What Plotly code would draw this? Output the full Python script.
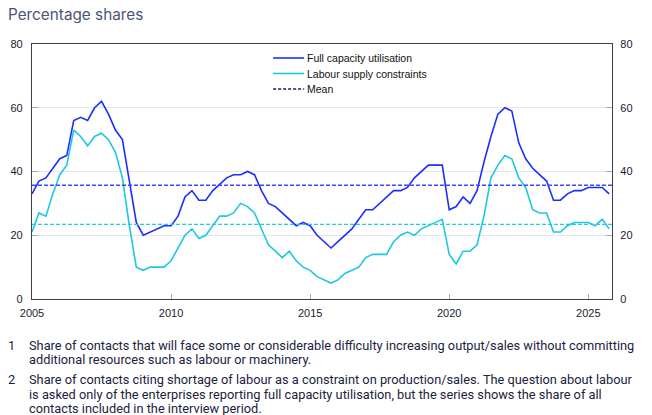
import plotly.graph_objects as go

# Quarterly data 2005Q1 - 2025Q4
years = list(range(2005, 2026))
quarter_x = [y + q * 0.25 for y in years for q in range(4)]

full_capacity = [
    33, 37, 38, 41,   # 2005
    44, 45, 56, 57,   # 2006
    56, 60, 62, 58,   # 2007
    53, 50, 37, 24,   # 2008
    20, 21, 22, 23,   # 2009
    23, 26, 32, 34,   # 2010
    31, 31, 34, 36,   # 2011
    38, 39, 39, 40,   # 2012
    39, 34, 30, 29,   # 2013
    27, 25, 23, 24,   # 2014
    23, 20, 18, 16,   # 2015
    18, 20, 22, 25,   # 2016
    28, 28, 30, 32,   # 2017
    34, 34, 35, 38,   # 2018
    40, 42, 42, 42,   # 2019
    28, 29, 32, 30,   # 2020
    34, 43, 51, 58,   # 2021
    60, 59, 49, 44,   # 2022
    41, 39, 37, 31,   # 2023
    31, 33, 34, 34,   # 2024
    35, 35, 35, 33,   # 2025
]

labour = [
    21, 27, 26, 33,   # 2005
    39, 42, 53, 51,   # 2006
    48, 51, 52, 50,   # 2007
    46, 38, 23, 10,   # 2008
    9, 10, 10, 10,    # 2009
    12, 16, 20, 22,   # 2010
    19, 20, 23, 26,   # 2011
    26, 27, 30, 29,   # 2012
    27, 22, 17, 15,   # 2013
    13, 15, 12, 10,   # 2014
    9, 7, 6, 5,       # 2015
    6, 8, 9, 10,      # 2016
    13, 14, 14, 14,   # 2017
    18, 20, 21, 20,   # 2018
    22, 23, 24, 25,   # 2019
    14, 11, 15, 15,   # 2020
    17, 26, 38, 42,   # 2021
    45, 44, 38, 35,   # 2022
    28, 27, 27, 21,   # 2023
    21, 23, 24, 24,   # 2024
    24, 23, 25, 22,   # 2025
]

mean_full = 35.7
mean_labour = 23.4

y_ticks = [0, 20, 40, 60, 80]
x_ticks = [2005, 2010, 2015, 2020, 2025]

series_names = ["Full capacity utilisation", "Labour supply constraints", "Mean"]
title_text = "Percentage shares"
footnote_numbers = ["1", "2"]
footnote_lines = [
    ["Share of contacts that will face some or considerable difficulty increasing output/sales without committing",
     "additional resources such as labour or machinery."],
    ["Share of contacts citing shortage of labour as a constraint on production/sales. The question about labour",
     "is asked only of the enterprises reporting full capacity utilisation, but the series shows the share of all",
     "contacts included in the interview period."],
]

BLUE = "#1e2dff"
CYAN = "#1ec8e0"
MEAN_BLUE = "#3a48ff"
MEAN_CYAN = "#2cc8e2"
NAVY = "#1a1f5c"
legend_colors = [BLUE, CYAN, NAVY]
legend_dash = ["solid", "solid", "3px,2px"]

W, H = 652, 415
PLOT_L, PLOT_R, PLOT_T, PLOT_B = 32, 611.7, 44, 299
L = PLOT_L
T = PLOT_T
pw = PLOT_R - PLOT_L
ph = PLOT_B - PLOT_T
R = W - L - pw
B = H - T - ph


def px(x):
    return (x - PLOT_L) / pw


def py(y):
    return (PLOT_B - y) / ph


fig = go.Figure()

x_start, x_end = 2005, 2005 + (PLOT_R - PLOT_L) / 27.8

fig.add_trace(go.Scatter(x=quarter_x, y=full_capacity, mode="lines",
                         line=dict(color=BLUE, width=1.6), name=series_names[0]))
fig.add_trace(go.Scatter(x=quarter_x, y=labour, mode="lines",
                         line=dict(color=CYAN, width=1.6), name=series_names[1]))
fig.add_trace(go.Scatter(x=[x_start, x_end], y=[mean_full, mean_full], mode="lines",
                         line=dict(color=MEAN_BLUE, width=1.4, dash="4px,2px"), yaxis="y2"))
fig.add_trace(go.Scatter(x=[x_start, x_end], y=[mean_labour, mean_labour], mode="lines",
                         line=dict(color=MEAN_CYAN, width=1.4, dash="4px,2px"), yaxis="y2"))

tickfont = dict(family="Liberation Sans, Arial, sans-serif", size=11, color="#1a1a2e")

fig.update_layout(
    width=W, height=H,
    margin=dict(l=L, r=R, t=T, b=B, pad=0, autoexpand=False),
    paper_bgcolor="white", plot_bgcolor="white",
    showlegend=False,
    xaxis=dict(range=[x_start, x_end], tickvals=x_ticks, ticktext=[str(v) for v in x_ticks],
               showgrid=False, zeroline=False, showline=True, linecolor="#3a3f4a", linewidth=1.2,
               mirror=True, ticks="inside", ticklen=5, tickcolor="#aaaaaa", tickwidth=1,
               tickfont=tickfont, ticklabelstandoff=4, automargin=False),
    yaxis=dict(range=[0, 80], tickvals=y_ticks, showgrid=True, gridcolor="#e6e6e6", gridwidth=1,
               zeroline=False, showline=True, linecolor="#3a3f4a", linewidth=1.2,
               ticks="inside", ticklen=6, tickcolor="#aaaaaa", tickfont=tickfont,
               ticklabelstandoff=6, automargin=False),
    yaxis2=dict(range=[0, 80], tickvals=y_ticks, overlaying="y", side="right",
                showgrid=False, zeroline=False, showline=True, linecolor="#3a3f4a", linewidth=1.2,
                ticks="inside", ticklen=6, tickcolor="#aaaaaa", tickfont=tickfont,
                ticklabelstandoff=5, automargin=False),
)

# legend drawn manually for tight row spacing
legend_rows = [58, 73.5, 89]
for name, color, dash, yr in zip(series_names, legend_colors, legend_dash, legend_rows):
    fig.add_shape(type="line", xref="paper", yref="paper", x0=px(273), x1=px(304),
                  y0=py(yr), y1=py(yr), line=dict(color=color, width=1.6, dash=dash))
    fig.add_annotation(text=name, xref="paper", yref="paper", x=px(305), y=py(yr),
                       xanchor="left", yanchor="middle", showarrow=False,
                       font=dict(family="Liberation Sans, Arial, sans-serif", size=10.5, color="#111111"))

fig.add_annotation(text=title_text, xref="paper", yref="paper",
                   x=px(6), y=py(14.5), xanchor="left", yanchor="middle",
                   showarrow=False, font=dict(family="Inter, Open Sans, sans-serif", size=15.3, color="#4b5575"))

note_font = dict(family="Roboto, Liberation Sans, sans-serif", size=12.8, color="#1c2340")
note_starts = [345, 379.5]
line_gap = 14.5
for num, lines, y0 in zip(footnote_numbers, footnote_lines, note_starts):
    fig.add_annotation(text=num, xref="paper", yref="paper", x=px(6), y=py(y0),
                       xanchor="left", yanchor="middle", showarrow=False, font=note_font)
    for i, ln in enumerate(lines):
        fig.add_annotation(text=ln, xref="paper", yref="paper", x=px(27), y=py(y0 + i * line_gap),
                           xanchor="left", yanchor="middle", showarrow=False, align="left", font=note_font)

fig.write_html("out.html", config={"displayModeBar": False},
               post_script="document.body.style.margin='0';document.body.style.overflow='hidden';")
